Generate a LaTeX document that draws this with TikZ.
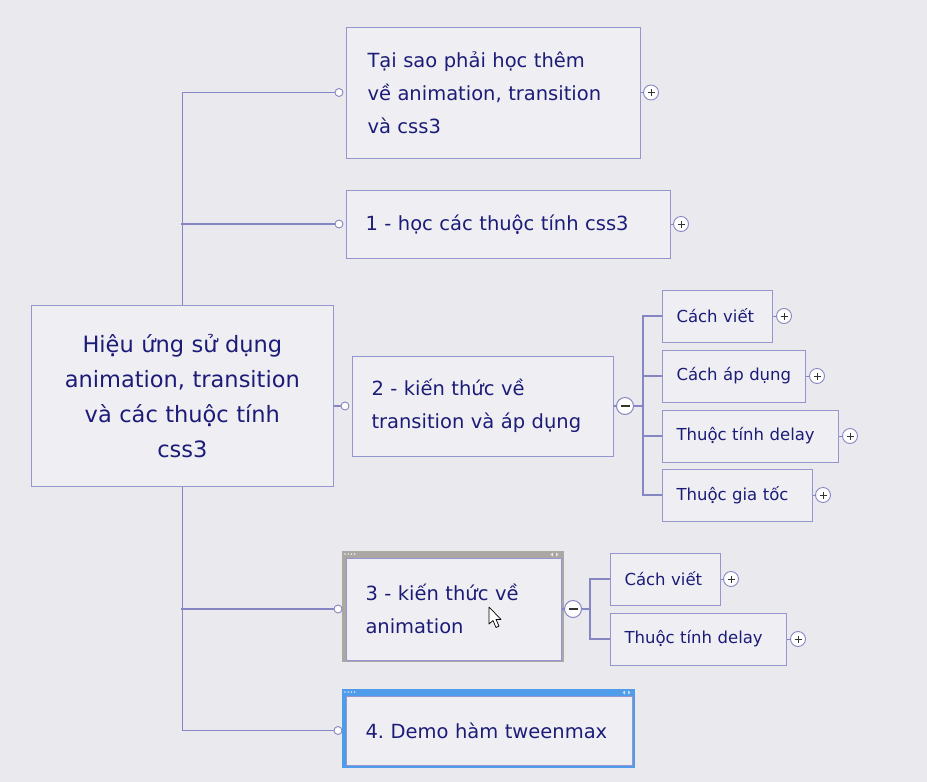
\documentclass[tikz,border=0pt]{standalone}
\usepackage{fontspec}
\setmainfont{DejaVu Sans}
\frenchspacing
\definecolor{bgc}{HTML}{EAEAEE}
\definecolor{boxfill}{HTML}{EFEFF3}
\definecolor{boxline}{HTML}{9696CE}
\definecolor{conncol}{HTML}{8686C4}
\definecolor{txt}{HTML}{1C1C78}
\definecolor{framegray}{HTML}{ABA7A3}
\definecolor{frameblue}{HTML}{4E9CEA}
\tikzset{
  box/.style={draw=boxline, line width=1pt, fill=boxfill, rectangle, text=txt, align=left, inner ysep=0pt, anchor=west},
  conn/.style={draw=conncol, line width=1.2pt},
  endc/.style={circle, draw=conncol, fill=white, line width=0.9pt, minimum size=8pt, inner sep=0pt},
  plusc/.style={circle, draw=conncol, fill=white, line width=0.9pt, minimum size=15pt, inner sep=0pt,
    path picture={\draw[black!80, line width=0.8pt] (path picture bounding box.center) +(-3.5,0) -- +(3.5,0) (path picture bounding box.center) +(0,-3.5) -- +(0,3.5);}},
  minusc/.style={circle, draw=conncol, fill=white, line width=1pt, minimum size=17pt, inner sep=0pt,
    path picture={\draw[black!80, line width=1.2pt] (path picture bounding box.center) +(-4.5,0) -- +(4.5,0);}},
  mainf/.style={font=\fontsize{19.5}{33}\selectfont},
  subf/.style={font=\fontsize{16.5}{22}\selectfont},
}
\begin{document}
\begin{tikzpicture}[x=1pt,y=-1pt]
\fill[bgc] (0,0) rectangle (927,782);
\useasboundingbox (0,0) rectangle (927,782);

% root
\node[box, anchor=north west, align=center, minimum width=301pt, minimum height=181pt, text width=295pt,
  font=\fontsize{22.5}{35}\selectfont] (root) at (31,305)
  {Hiệu ứng sử dụng\\animation, transition\\và các thuộc tính\\css3};

% level-1 boxes
\node[box, mainf, inner xsep=21pt, text width=252pt, minimum height=131pt] (a) at (346,92.5)
  {Tại sao phải học thêm\\về animation, transition\\và css3};
\node[box, mainf, inner xsep=19pt, text width=286pt, minimum height=68pt] (b) at (346,224)
  {1 - học các thuộc tính css3};
\node[box, mainf, inner xsep=19pt, text width=223pt, minimum height=100pt] (c) at (352,406)
  {2 - kiến thức về\\transition và áp dụng};

% box 3 with gray frame
\fill[framegray] (342,551) rectangle (564,662);
\foreach \i in {0,1,2,3} \fill[white!85!gray] (345+\i*3.2,554) circle (0.9pt);
\fill[white!80!gray] (553,552.5) -- (553,556.5) -- (550.5,554.5) -- cycle;
\fill[white!80!gray] (556,552.5) -- (556,556.5) -- (558.5,554.5) -- cycle;
\node[box, mainf, inner xsep=19pt, text width=177pt, minimum height=102pt] (d) at (346,609)
  {3 - kiến thức về\\animation};

% box 4 with blue frame
\fill[frameblue] (342,689) rectangle (635,768);
\foreach \i in {0,1,2,3} \fill[white!70!frameblue] (345+\i*3.2,692) circle (0.9pt);
\fill[white!70!frameblue] (625,690.5) -- (625,694.5) -- (622.5,692.5) -- cycle;
\fill[white!70!frameblue] (628,690.5) -- (628,694.5) -- (630.5,692.5) -- cycle;
\node[box, mainf, inner xsep=19pt, text width=248pt, minimum height=69pt] (e) at (346,730.5)
  {4. Demo hàm tweenmax};

% sub boxes of 2
\node[box, subf, inner xsep=14pt, text width=82pt, minimum height=52pt] (c1) at (662,316) {Cách viết};
\node[box, subf, inner xsep=14pt, text width=115pt, minimum height=52pt] (c2) at (662,376) {Cách áp dụng};
\node[box, subf, inner xsep=14pt, text width=148pt, minimum height=52pt] (c3) at (662,436) {Thuộc tính delay};
\node[box, subf, inner xsep=14pt, text width=122pt, minimum height=52pt] (c4) at (662,495) {Thuộc gia tốc};
% sub boxes of 3
\node[box, subf, inner xsep=14pt, text width=82pt, minimum height=52pt] (d1) at (610,579) {Cách viết};
\node[box, subf, inner xsep=14pt, text width=148pt, minimum height=52pt] (d2) at (610,639) {Thuộc tính delay};

% trunk connectors
\coordinate (ea) at (339,92.5);
\coordinate (eb) at (339,224);
\coordinate (ec) at (345,406);
\coordinate (ed) at (338,609);
\coordinate (ee) at (338,730.5);
\draw[conn] (root.north) |- (ea);
\draw[conn] (181,224) -- (eb);
\draw[conn] (root.south) |- (ee);
\draw[conn] (181,609) -- (ed);
\draw[conn] (root.east |- ec) -- (ec);
\node[endc] (na) at (ea) {};
\node[endc] (nb) at (eb) {};
\node[endc] (nc) at (ec) {};
\node[endc] (nd) at (ed) {};
\node[endc] (ne) at (ee) {};

% plus buttons
\node[plusc] (pa) at (651,92.5) {};
\node[plusc] (pb) at (681,224) {};
\node[plusc] (pc1) at (784,316) {};
\node[plusc] (pc2) at (817,376) {};
\node[plusc] (pc3) at (850,436) {};
\node[plusc] (pc4) at (823,495) {};
\node[plusc] (pd1) at (731,579) {};
\node[plusc] (pd2) at (798,639) {};
\foreach \s/\t in {a/pa,b/pb,c1/pc1,c2/pc2,c3/pc3,c4/pc4,d1/pd1,d2/pd2}
  \draw[conn, line width=0.8pt] (\s.east) -- (\t.west);

% minus buttons and sub trunks
\node[minusc] (mc) at (625,406) {};
\node[minusc] (md) at (573,609) {};
\draw[conn] (c.east) -- (mc.west);
\draw[conn] (d.east) -- (md.west);
\coordinate (tc) at (643,406);
\coordinate (td) at (590,609);
\draw[conn] (mc.east) -- (tc);
\draw[conn] (md.east) -- (td);
\draw[conn] (tc) |- (c1.west);
\draw[conn] (tc) |- (c4.west);
\draw[conn] (tc |- c2.west) -- (c2.west);
\draw[conn] (tc |- c3.west) -- (c3.west);
\draw[conn] (td) |- (d1.west);
\draw[conn] (td) |- (d2.west);

% mouse cursor
\draw[black, fill=white, line width=0.7pt, line join=round]
  (489,607) -- (489,624) -- (493,620.5) -- (496,627.5) -- (499,626) -- (496,619.5) -- (501,619.5) -- cycle;
\end{tikzpicture}
\end{document}
